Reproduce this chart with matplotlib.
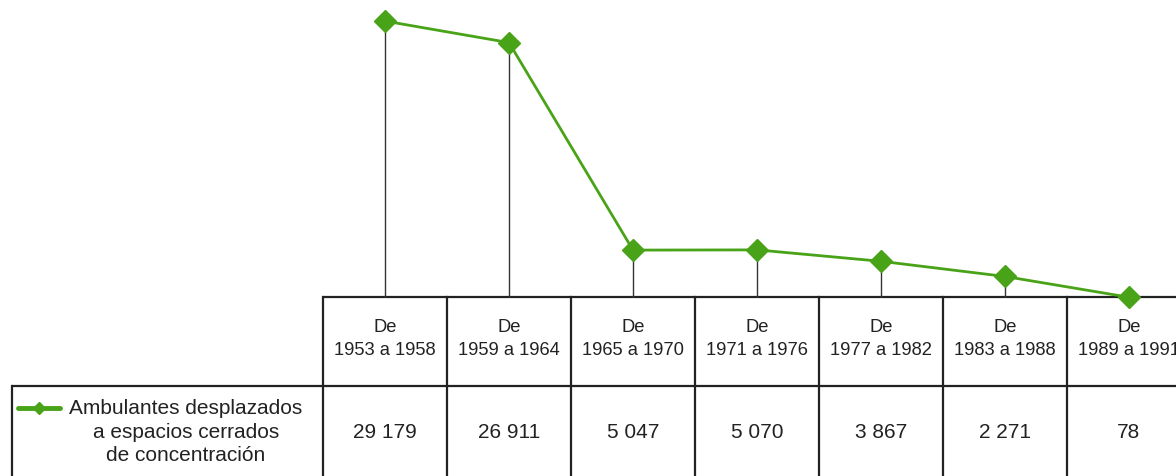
import matplotlib.pyplot as plt
import matplotlib.lines as mlines

# data
periods = ["1953 a 1958", "1959 a 1964", "1965 a 1970", "1971 a 1976",
           "1977 a 1982", "1983 a 1988", "1989 a 1991"]
values = [29179, 26911, 5047, 5070, 3867, 2271, 78]
value_labels = ["29 179", "26 911", "5 047", "5 070", "3 867", "2 271", "78"]
series_label = "Ambulantes desplazados\na espacios cerrados\nde concentración"

green = "#49a318"
dark = "#222222"
W, H = 1176, 476
x0, colw = 323, 124
top_y, row_y = 297, 386

plt.rcParams['font.family'] = ['Liberation Sans', 'DejaVu Sans']

fig = plt.figure(figsize=(W / 100, H / 100), dpi=100)

# table layer in pixel coords
tab = fig.add_axes([0, 0, 1, 1])
tab.set_xlim(0, W)
tab.set_ylim(H, 0)
tab.axis("off")

ncol = len(periods)
edges = [x0 + colw * i for i in range(ncol + 1)]
tab.plot([x0, W], [top_y, top_y], color=dark, lw=1.6, solid_capstyle="butt")
tab.plot([12, W], [row_y, row_y], color=dark, lw=1.6, solid_capstyle="butt")
tab.plot([12, 12], [row_y, H], color=dark, lw=1.6)
for e in edges:
    tab.plot([e, e], [top_y, H], color=dark, lw=1.6)

for i, (p, v) in enumerate(zip(periods, value_labels)):
    cx = x0 + colw * (i + 0.5)
    tab.text(cx, 339, "De\n" + p, ha="center", va="center", fontsize=13.2,
             color="#222222", linespacing=1.5)
    tab.text(cx, 433, v, ha="center", va="center", fontsize=15, color="#222222")

# legend cell
tab.add_line(mlines.Line2D([18, 60], [408, 408], color=green, lw=3.5,
                           solid_capstyle="round"))
tab.add_line(mlines.Line2D([39], [408], color=green, marker="D", ms=6,
                           mec=green))
tab.text(186, 432, series_label, ha="center", va="center", fontsize=15,
         color="#222222", linespacing=1.3)

# line chart layer
ax = fig.add_axes([x0 / W, (H - top_y - 1) / H, colw * ncol / W, (top_y + 1) / H])
ax.patch.set_alpha(0)
ax.set_xlim(0, ncol)
ax.set_ylim(0, 31400)
ax.axis("off")
xs = [i + 0.5 for i in range(ncol)]
ax.vlines(xs, 0, values, color="#333333", lw=1.0, zorder=1)
ax.plot(xs, values, color=green, lw=2, marker="D", ms=11, mec=green,
        zorder=3, clip_on=False)

fig.savefig("out.png", dpi=100)
